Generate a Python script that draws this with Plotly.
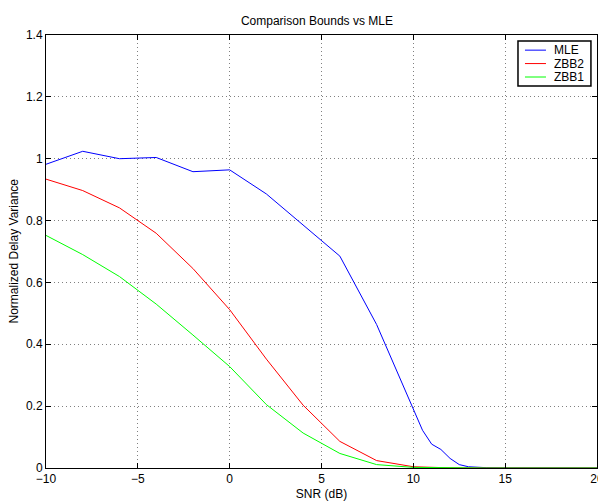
import plotly.graph_objects as go

snr_mle = [-10, -8, -6, -4, -2, 0, 2, 4, 6, 8, 10, 10.5, 11, 11.5, 12, 12.5, 13, 14, 15, 16, 17, 18, 19, 20]
mle = [0.982, 1.024, 1.0, 1.004, 0.958, 0.964, 0.886, 0.787, 0.685, 0.464, 0.19, 0.122, 0.077, 0.06,
       0.031, 0.011, 0.004, 0.001, 0.0005, 0.0003, 0.0002, 0.0001, 0.0001, 0.0001]

snr_bnd = [-10, -8, -6, -4, -2, 0, 2, 4, 6, 8, 10, 12, 14, 16, 18, 20]
zbb2 = [0.934, 0.897, 0.841, 0.759, 0.645, 0.512, 0.352, 0.203, 0.086, 0.024, 0.004, 0.0005, 0.0001, 0, 0, 0]
zbb1 = [0.752, 0.69, 0.619, 0.53, 0.43, 0.328, 0.205, 0.113, 0.047, 0.011, 0.002, 0.0002, 0, 0, 0, 0]

series_names = ["MLE", "ZBB2", "ZBB1"]
series_colors = ["#0000ff", "#ff0000", "#00ff00"]

x_ticks = [-10, -5, 0, 5, 10, 15, 20]
x_tick_text = ["\u221210", "\u22125", "0", "5", "10", "15", "20"]
y_ticks = [0, 0.2, 0.4, 0.6, 0.8, 1.0, 1.2, 1.4]
y_tick_text = ["0", "0.2", "0.4", "0.6", "0.8", "1", "1.2", "1.4"]

font = "Liberation Sans, Arial, Helvetica, sans-serif"

fig = go.Figure()
for xs, ys, name, col in zip([snr_mle, snr_bnd, snr_bnd], [mle, zbb2, zbb1], series_names, series_colors):
    fig.add_trace(go.Scatter(x=xs, y=ys, mode="lines", name=name,
                             line=dict(color=col, width=1), showlegend=False))

axis_common = dict(
    showline=True, linecolor="black", linewidth=1, mirror="ticks",
    ticks="inside", ticklen=5, tickcolor="black",
    showgrid=True, gridcolor="#808080", griddash="1px,3px", gridwidth=1,
    zeroline=False, ticklabeloverflow="allow", automargin=False,
    tickfont=dict(family=font, size=12, color="black"),
)

# Legend box (MATLAB style) drawn in paper coordinates
lg_x0, lg_x1, lg_y0, lg_y1 = 0.8566, 0.989, 0.882, 0.986
row_y = [0.965, 0.934, 0.903]
shapes = [dict(type="rect", xref="paper", yref="paper", x0=lg_x0, x1=lg_x1, y0=lg_y0, y1=lg_y1,
               line=dict(color="black", width=1.5), fillcolor="white", layer="above")]
annotations = []
for name, col, ry in zip(series_names, series_colors, row_y):
    shapes.append(dict(type="line", xref="paper", yref="paper", x0=0.8693, x1=0.9074, y0=ry, y1=ry,
                       line=dict(color=col, width=1), layer="above"))
    annotations.append(dict(text=name, xref="paper", yref="paper", x=0.918, y=ry, xanchor="left",
                            yanchor="middle", showarrow=False,
                            font=dict(family=font, size=12, color="black")))

annotations.append(dict(text="Normalized Delay Variance", xref="paper", yref="paper", x=0, y=0.5,
                        xanchor="center", yanchor="middle", xshift=-33, textangle=-90, showarrow=False,
                        font=dict(family=font, size=12, color="black")))

fig.update_layout(
    width=598, height=501, autosize=False,
    margin=dict(l=46, r=1, t=35, b=33),
    paper_bgcolor="white", plot_bgcolor="white",
    title=dict(text="Comparison Bounds vs MLE", x=0.53, xanchor="center", y=0.958, yanchor="middle",
               font=dict(family=font, size=12, color="black")),
    xaxis=dict(range=[-10, 20], tickvals=x_ticks, ticktext=x_tick_text,
               title=dict(text="SNR (dB)", font=dict(family=font, size=12, color="black")),
               **axis_common),
    yaxis=dict(range=[0, 1.4], tickvals=y_ticks, ticktext=y_tick_text, **axis_common),
    shapes=shapes,
    annotations=annotations,
    showlegend=False,
)

fig.write_html("out.html", config={"displayModeBar": False, "responsive": False},
               post_script="document.documentElement.style.overflow='hidden';"
                           "document.body.style.overflow='hidden';"
                           "document.body.style.margin='0';document.body.style.padding='0';")
